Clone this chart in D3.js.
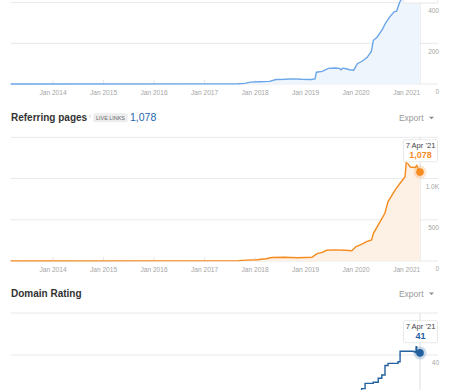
<!DOCTYPE html>
<html>
<head>
<meta charset="utf-8">
<script src="https://cdnjs.cloudflare.com/ajax/libs/d3/7.8.5/d3.min.js"></script>
<style>
  body { margin: 0; background: #fff; }
  svg { display: block; font-family: "Liberation Sans", Arial, Helvetica, sans-serif; }
</style>
</head>
<body>
<div class="chart"></div>
<script>
// ---- data ----
var domainsData = [
    ["2013-03-01", 0], ["2017-09-01", 1], ["2017-10-15", 3], ["2017-12-01", 9],
    ["2018-02-01", 11], ["2018-04-15", 13], ["2018-06-01", 22], ["2018-08-01", 23],
    ["2018-10-01", 25], ["2018-12-01", 23], ["2019-02-15", 22], ["2019-03-10", 25],
    ["2019-03-20", 58], ["2019-05-01", 62], ["2019-06-15", 77], ["2019-08-01", 79],
    ["2019-09-01", 77], ["2019-09-15", 70], ["2019-09-25", 78], ["2019-10-20", 75],
    ["2019-11-15", 70], ["2019-12-15", 68], ["2020-01-10", 100], ["2020-02-15", 113],
    ["2020-03-20", 130], ["2020-04-20", 160], ["2020-05-05", 215], ["2020-06-01", 230],
    ["2020-07-10", 270], ["2020-08-01", 300], ["2020-09-01", 330], ["2020-10-01", 355],
    ["2020-10-20", 358], ["2020-11-10", 400], ["2020-12-01", 430], ["2021-01-15", 500],
    ["2021-04-07", 547]
];
var pagesData = [
    ["2013-03-01", 2], ["2017-09-01", 4], ["2017-11-01", 10], ["2018-01-15", 15],
    ["2018-03-20", 28], ["2018-05-01", 42], ["2018-08-01", 45], ["2018-11-01", 40],
    ["2019-02-15", 45], ["2019-03-25", 90], ["2019-05-01", 105], ["2019-06-01", 130],
    ["2019-08-01", 135], ["2019-10-15", 130], ["2019-12-01", 125], ["2020-01-01", 175],
    ["2020-02-01", 195], ["2020-03-17", 234], ["2020-04-22", 255], ["2020-05-05", 336],
    ["2020-06-23", 477], ["2020-07-27", 579], ["2020-08-19", 720], ["2020-10-10", 862],
    ["2020-11-14", 943], ["2020-12-20", 1023], ["2020-12-28", 1190], ["2021-01-10", 1180],
    ["2021-01-26", 1140], ["2021-03-03", 1135], ["2021-03-15", 1160], ["2021-03-25", 1110],
    ["2021-04-07", 1078]
];
var ratingData = [
    ["2013-03-01", 0], ["2017-10-01", 5], ["2018-06-01", 10], ["2019-03-01", 15],
    ["2019-09-01", 20], ["2020-01-28", 22], ["2020-02-10", 24], ["2020-03-06", 26.5],
    ["2020-05-04", 27], ["2020-06-09", 28.9], ["2020-07-05", 30.5], ["2020-07-28", 35],
    ["2020-08-19", 36], ["2020-10-30", 36.8], ["2020-11-14", 41.8], ["2021-02-16", 41.6],
    ["2021-03-03", 41.2], ["2021-03-10", 44], ["2021-03-14", 41.4], ["2021-04-07", 41]
];
var domainsTicks = [0, 200, 400, 600];
var pagesTicks = [0, 500, 1000, 1500];
var ratingTicks = [0, 20, 40, 60];
var tooltipDate = "7 Apr '21";
var liveLinks = "1,078";

var options = { width: 450, height: 390, left: 10.7, right: 420, gridRight: 438, labelX: 439 };

var parse = d3.timeParse("%Y-%m-%d");
var xScale = d3.scaleTime()
    .domain([parse("2013-03-01"), parse("2021-04-07")])
    .range([options.left, options.right]);

var svg = d3.select(".chart").append("svg")
    .attr("width", options.width)
    .attr("height", options.height);

var panels = [
    { title: "Referring domains", data: domainsData, ticks: domainsTicks, top: -38, h: 122,
      line: "#6aa6e8", fill: "#eef5fd", valueColor: "#3f86d6", fmt: function(v){return String(v);},
      tipValue: "547", tipBottom: 3, step: false },
    { title: "Referring pages", data: pagesData, ticks: pagesTicks, top: 137.3, h: 123.7,
      line: "#f68b1f", fill: "#fdf0e4", valueColor: "#f68b1f",
      fmt: function(v){ return v >= 1000 ? (v/1000).toFixed(1) + "K" : String(v); },
      tipValue: "1,078", tipBottom: 161.7, step: false, badge: true },
    { title: "Domain Rating", data: ratingData, ticks: ratingTicks, top: 313, h: 126,
      line: "#22609f", fill: null, valueColor: "#22609f", fmt: function(v){return String(v);},
      tipValue: "41", tipBottom: 342.7, step: true }
];

panels.forEach(function(p) {
    var base = p.top + p.h;
    var yScale = d3.scaleLinear()
        .domain([0, d3.max(p.ticks)])
        .range([base, p.top]);
    var g = svg.append("g");
    var pts = p.data.map(function(d){ return { date: parse(d[0]), value: d[1] }; });

    // title row (the first panel's title is scrolled out of view)
    var ty = p.top - 16;
    if (ty > 0) {
        var title = g.append("text")
            .attr("x", 11).attr("y", ty)
            .attr("font-size", "10px").attr("font-weight", "bold").attr("fill", "#333")
            .text(p.title);

        if (p.badge) {
            var tw = title.node().getComputedTextLength();
            g.append("text").attr("x", 11 + tw + 2).attr("y", ty - 3.5)
                .attr("font-size", "5px").attr("fill", "#aaa").text("i");
            g.append("rect").attr("x", 93.3).attr("y", ty - 8).attr("width", 34.4).attr("height", 9)
                .attr("rx", 1.5).attr("fill", "#ededed");
            g.append("text").attr("x", 110.5).attr("y", ty - 1.6).attr("text-anchor", "middle")
                .attr("font-size", "5.4px").attr("fill", "#666").text("LIVE LINKS");
            g.append("text").attr("x", 130).attr("y", ty)
                .attr("font-size", "10.5px").attr("fill", "#2266b0").text(liveLinks);
        }

        g.append("text").attr("x", 423.5).attr("y", ty - 0.5).attr("text-anchor", "end")
            .attr("font-size", "8.5px").attr("fill", "#9a9a9a").text("Export");
        g.append("path")
            .attr("d", "M429,"+(ty-4.5)+"L434,"+(ty-4.5)+"L431.5,"+(ty-2)+"Z")
            .attr("fill", "#888");
    }

    // grid lines
    g.selectAll(".grid").data(p.ticks).enter().append("line")
        .attr("x1", options.left).attr("x2", options.gridRight)
        .attr("y1", function(d){ return yScale(d); })
        .attr("y2", function(d){ return yScale(d); })
        .attr("stroke", "#e9e9e9").attr("stroke-width", 1);

    // x ticks + labels
    var years = d3.timeYear.range(parse("2014-01-01"), parse("2021-02-01"));
    g.selectAll(".xtick").data(years).enter().append("line")
        .attr("x1", function(d){ return xScale(d); }).attr("x2", function(d){ return xScale(d); })
        .attr("y1", base - 4).attr("y2", base)
        .attr("stroke", "#e6e6e6");
    if (base + 10 < options.height) {
        g.selectAll(".xlab").data(years).enter().append("text")
            .attr("x", function(d){ return xScale(d); })
            .attr("y", base + 10.5)
            .attr("text-anchor", "middle")
            .attr("font-size", "6.6px").attr("fill", "#a5a5a5")
            .text(d3.timeFormat("Jan %Y"));
    }

    // y labels on the right; the top one sits under the tooltip
    var shown = p.ticks.filter(function(d){
        var y = yScale(d) + 10.3;
        return d < d3.max(p.ticks) && y < options.height && y > 6;
    });
    g.selectAll(".ylab").data(shown).enter().append("text")
        .attr("x", options.labelX)
        .attr("y", function(d){ return yScale(d) + 10.3; })
        .attr("text-anchor", "end")
        .attr("font-size", "6.5px").attr("fill", "#a5a5a5")
        .text(function(d){ return p.fmt(d); });

    // hover line
    g.append("line")
        .attr("x1", options.right).attr("x2", options.right)
        .attr("y1", p.top).attr("y2", base)
        .attr("stroke", "#dedede");

    var curve = p.step ? d3.curveStepAfter : d3.curveLinear;
    if (p.fill) {
        g.append("path").datum(pts)
            .attr("d", d3.area().curve(curve)
                .x(function(d){ return xScale(d.date); })
                .y0(base)
                .y1(function(d){ return yScale(d.value); }))
            .attr("fill", p.fill);
    }
    g.append("path").datum(pts)
        .attr("d", d3.line().curve(curve)
            .x(function(d){ return xScale(d.date); })
            .y(function(d){ return yScale(d.value); }))
        .attr("fill", "none")
        .attr("stroke", p.line)
        .attr("stroke-width", 1.4);

    var last = pts[pts.length - 1];
    g.append("circle").attr("cx", xScale(last.date)).attr("cy", yScale(last.value))
        .attr("r", 6.5).attr("fill", p.line).attr("opacity", 0.22);
    g.append("circle").attr("cx", xScale(last.date)).attr("cy", yScale(last.value))
        .attr("r", 3.8).attr("fill", p.line);

    // tooltip
    var bx = 403.5, bw = 34, bh = 22, by = p.tipBottom - bh;
    g.append("rect").attr("x", bx).attr("y", by).attr("width", bw).attr("height", bh)
        .attr("fill", "#fff").attr("stroke", "#e2e2e2").attr("stroke-width", 0.8).attr("rx", 1);
    if (by + 8.5 > 0) {
        g.append("text").attr("x", bx + bw / 2).attr("y", by + 8.5).attr("text-anchor", "middle")
            .attr("font-size", "7.6px").attr("fill", "#444").text(tooltipDate);
    }
    g.append("text").attr("x", bx + bw / 2).attr("y", by + 18).attr("text-anchor", "middle")
        .attr("font-size", "9px").attr("font-weight", "bold").attr("fill", p.valueColor)
        .text(p.tipValue);
});
</script>
</body>
</html>
